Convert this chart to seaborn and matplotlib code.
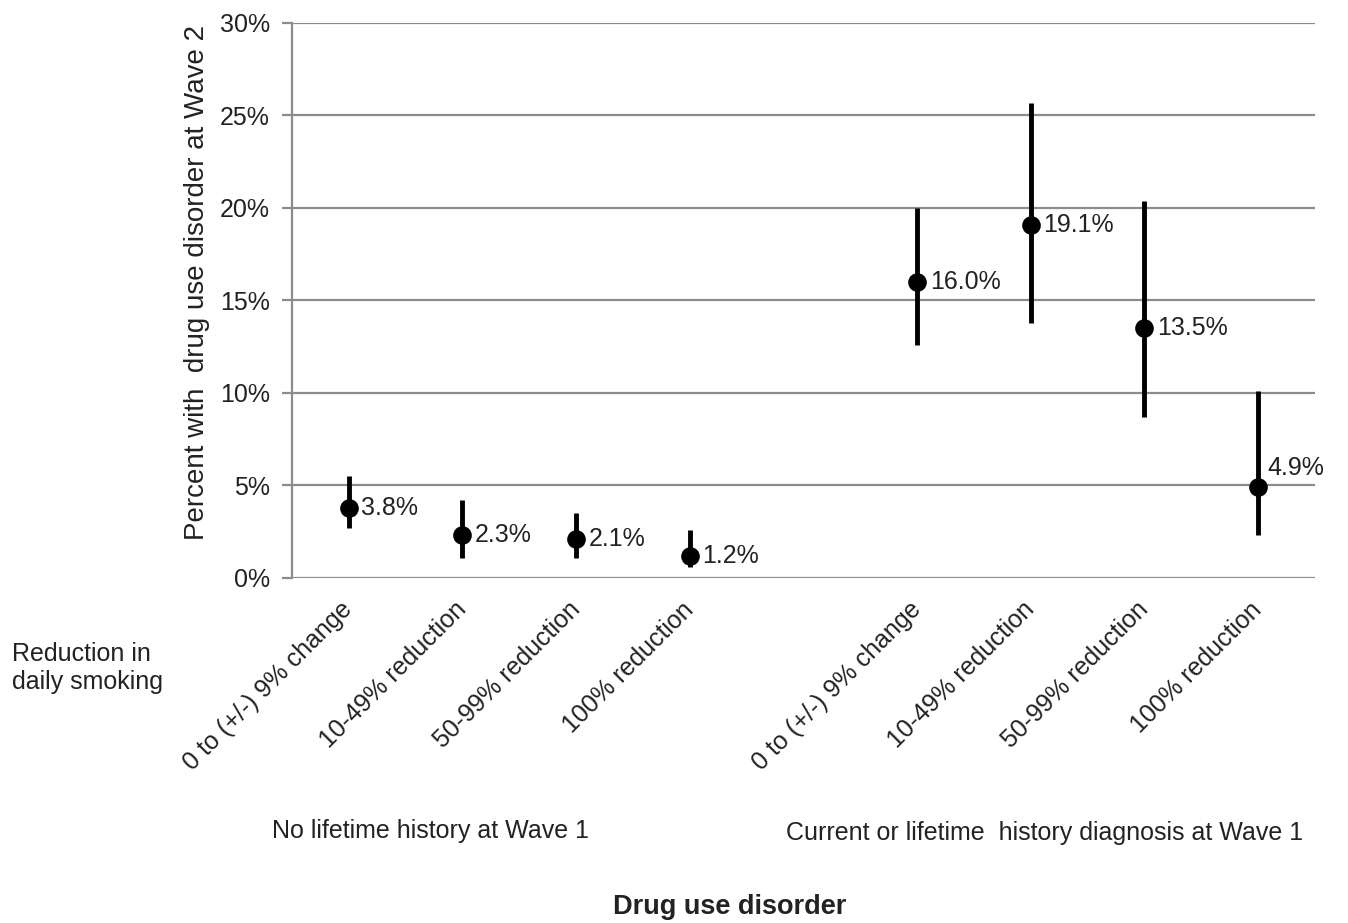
import matplotlib
matplotlib.use("Agg")
import matplotlib.pyplot as plt
import seaborn as sns
import pandas as pd

# data
reduction = ["0 to (+/-) 9% change", "10-49% reduction", "50-99% reduction", "100% reduction"]
groups = ["No lifetime history at Wave 1", "Current or lifetime  history diagnosis at Wave 1"]
pct_none = [3.8, 2.3, 2.1, 1.2]
lo_none = [2.7, 1.1, 1.1, 0.6]
hi_none = [5.5, 4.2, 3.5, 2.6]
pct_dx = [16.0, 19.1, 13.5, 4.9]
lo_dx = [12.6, 13.8, 8.7, 2.3]
hi_dx = [20.0, 25.7, 20.4, 10.1]

rows = []
for g, (pct, lo, hi) in enumerate([(pct_none, lo_none, hi_none), (pct_dx, lo_dx, hi_dx)]):
    for i, lab in enumerate(reduction):
        rows.append({"group": groups[g], "reduction": lab, "slot": g * 5 + i,
                     "pct": pct[i], "lo": lo[i], "hi": hi[i]})
df = pd.DataFrame(rows)

sns.set_style("white")
plt.rcParams["font.family"] = ["Liberation Sans", "DejaVu Sans"]
FS = 18

fig = plt.figure(figsize=(13.48, 9.23), dpi=100)
ax = fig.add_axes([0.2166, 0.3738, 0.7589, 0.6013])

grid_c = "#8c8c8c"
for v in range(0, 31, 5):
    ax.axhline(v, color=grid_c, lw=1.6, zorder=0)

ax.vlines(df["slot"], df["lo"], df["hi"], color="black", lw=3.5, zorder=2)
sns.scatterplot(data=df, x="slot", y="pct", ax=ax, color="black", s=180,
                edgecolor="black", linewidth=0, zorder=3, legend=False)

for _, r in df.iterrows():
    if r["slot"] == 8:
        off = (7, 14)
    else:
        off = (9, 0)
    ax.annotate(f"{r['pct']:.1f}%", (r["slot"], r["pct"]), xytext=off,
                textcoords="offset points", ha="left", va="center", fontsize=FS,
                color="#222222")

ax.set_xlim(-0.5, 8.5)
ax.set_ylim(0, 30)
ax.set_yticks(range(0, 31, 5))
ax.set_yticklabels([f"{v}%" for v in range(0, 31, 5)], fontsize=FS, color="#222222")
ax.set_xticks(df["slot"])
ax.set_xticklabels(df["reduction"], rotation=45, ha="right", va="center",
                   rotation_mode="anchor", fontsize=FS, color="#222222")
ax.tick_params(axis="x", length=0, pad=20)
ax.tick_params(axis="y", length=7, width=1.6, color=grid_c, pad=9, left=True)
for s in ["top", "right", "bottom"]:
    ax.spines[s].set_visible(False)
ax.spines["left"].set_color(grid_c)
ax.spines["left"].set_linewidth(1.6)

ax.set_xlabel("")
ax.set_ylabel("Percent with  drug use disorder at Wave 2", fontsize=20, color="#222222")
ax.yaxis.set_label_coords(-0.08, 0.533)

fig.text(12 / 1348, 1 - 668 / 923, "Reduction in\ndaily smoking", fontsize=FS,
         ha="left", va="center", linespacing=1.25, color="#222222")
fig.text(430 / 1348, 1 - 831 / 923, groups[0], fontsize=FS, ha="center", va="center",
         color="#222222")
fig.text(1045 / 1348, 1 - 833 / 923, groups[1], fontsize=FS, ha="center", va="center",
         color="#222222")
fig.text(730 / 1348, 1 - 907 / 923, "Drug use disorder", fontsize=19.5,
         fontweight="bold", ha="center", va="center", color="#222222")

fig.savefig("out.png", dpi=100)
